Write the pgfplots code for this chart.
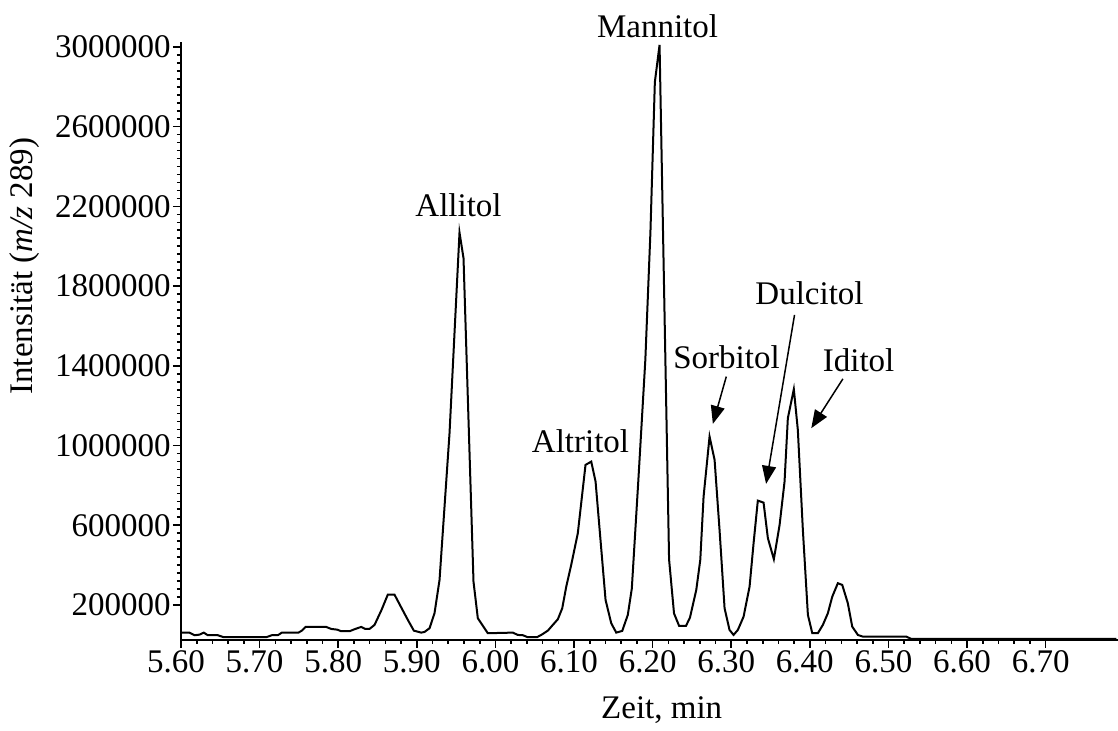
\documentclass[border=0pt]{standalone}
\usepackage{fontspec}
\setmainfont{Liberation Serif}
\usepackage{pgfplots}
\pgfplotsset{compat=1.18}
\usetikzlibrary{arrows.meta}
\begin{document}
\fontsize{16.5pt}{19.8pt}\selectfont
\begin{tikzpicture}
\useasboundingbox (-90.5pt,-45.5pt) rectangle (468.5pt,320pt);
\begin{axis}[
  at={(0pt,0pt)}, anchor=south west,
  scale only axis, width=468.5pt, height=299pt,
  xmin=5.6, xmax=6.792, ymin=24000, ymax=3025000,
  axis x line=bottom, axis y line=left,
  axis line style={-, line width=1pt},
  tick align=outside,
  major tick length=4pt, minor tick length=2pt,
  every tick/.style={black, line width=0.8pt},
  xtick={5.6,5.7,5.8,5.9,6.0,6.1,6.2,6.3,6.4,6.5,6.6,6.7},
  xticklabels={5.60,5.70,5.80,5.90,6.00,6.10,6.20,6.30,6.40,6.50,6.60,6.70},
  minor x tick num=4,
  ytick={200000,600000,1000000,1400000,1800000,2200000,2600000,3000000},
  yticklabels={200000,600000,1000000,1400000,1800000,2200000,2600000,3000000},
  minor y tick num=9,
  scaled y ticks=false, scaled x ticks=false,
  x tick label style={xshift=-2.5pt, inner ysep=1pt},
  y tick label style={inner xsep=1pt},
  xlabel={Zeit, min},
  xlabel style={at={(axis description cs:0.513,-0.117)}, anchor=center},
  ylabel={Intensität (\textit{m/z} 289)},
  ylabel style={at={(axis description cs:-0.1665,0.625)}, anchor=center},
  clip=false,
]
\addplot[black, line width=1pt] table {
t v
5.6000 61000
5.6108 61000
5.6172 47900
5.6235 50900
5.6290 61000
5.6341 47900
5.6468 47900
5.6545 37900
5.7084 37900
5.7155 47900
5.7232 47900
5.7282 61000
5.7495 61000
5.7537 71000
5.7584 89600
5.7847 89600
5.7911 79500
5.7987 76000
5.8038 68000
5.8144 68000
5.8207 78000
5.8293 89600
5.8344 79500
5.8398 79500
5.8462 99600
5.8551 174900
5.8631 251700
5.8716 251700
5.8805 184900
5.8886 124700
5.8962 71000
5.9056 61000
5.9098 64500
5.9162 83100
5.9225 158300
5.9289 325500
5.9416 1061800
5.9543 2068600
5.9594 1940100
5.9721 316900
5.9776 133200
5.9903 58000
6.0221 61000
6.0285 49400
6.0349 47900
6.0412 37900
6.0527 37900
6.0583 49400
6.0667 71000
6.0730 99600
6.0794 128200
6.0850 183400
6.0901 291800
6.0964 400800
6.1048 559900
6.1146 902700
6.1219 919200
6.1274 818800
6.1401 225100
6.1473 108200
6.1537 61000
6.1613 69500
6.1684 149800
6.1735 282300
6.1821 845000
6.1907 1429700
6.1972 2073600
6.2028 2823400
6.2088 3010600
6.2209 428400
6.2272 157300
6.2337 94600
6.2424 94600
6.2475 136800
6.2555 275300
6.2606 425900
6.2648 743600
6.2724 1044700
6.2788 927800
6.2851 576400
6.2915 183400
6.2978 74500
6.3029 49400
6.3084 74500
6.3157 141300
6.3233 291800
6.3284 509700
6.3338 723500
6.3411 713400
6.3466 534800
6.3542 429400
6.3615 601500
6.3678 818800
6.3720 1137100
6.3796 1282600
6.3847 1078300
6.3911 576400
6.3975 149800
6.4031 58000
6.4102 58000
6.4165 99600
6.4229 158300
6.4285 241700
6.4356 308900
6.4412 300400
6.4483 208500
6.4539 91100
6.4611 49400
6.4674 40900
6.5227 40900
6.5290 29400
6.7900 29400
};
\node[anchor=base] at (axis cs:5.9531,2147400) {Allitol};
\node[anchor=base] at (axis cs:6.1083,962900) {Altritol};
\node[anchor=base] at (axis cs:6.2062,3045800) {Mannitol};
\node[anchor=base] at (axis cs:6.2940,1384500) {Sorbitol};
\node[anchor=base] at (axis cs:6.3996,1705700) {Dulcitol};
\node[anchor=base] at (axis cs:6.4620,1369400) {Iditol};
\draw[-{Triangle[length=9pt,width=7pt]}, line width=0.75pt] (axis cs:6.2937,1345800) -- (axis cs:6.2766,1108400);
\draw[-{Triangle[length=9pt,width=7pt]}, line width=0.75pt] (axis cs:6.3805,1655500) -- (axis cs:6.3443,807300);
\draw[-{Triangle[length=9pt,width=7pt]}, line width=0.75pt] (axis cs:6.4420,1334300) -- (axis cs:6.4018,1086900);
\end{axis}
\end{tikzpicture}
\end{document}
